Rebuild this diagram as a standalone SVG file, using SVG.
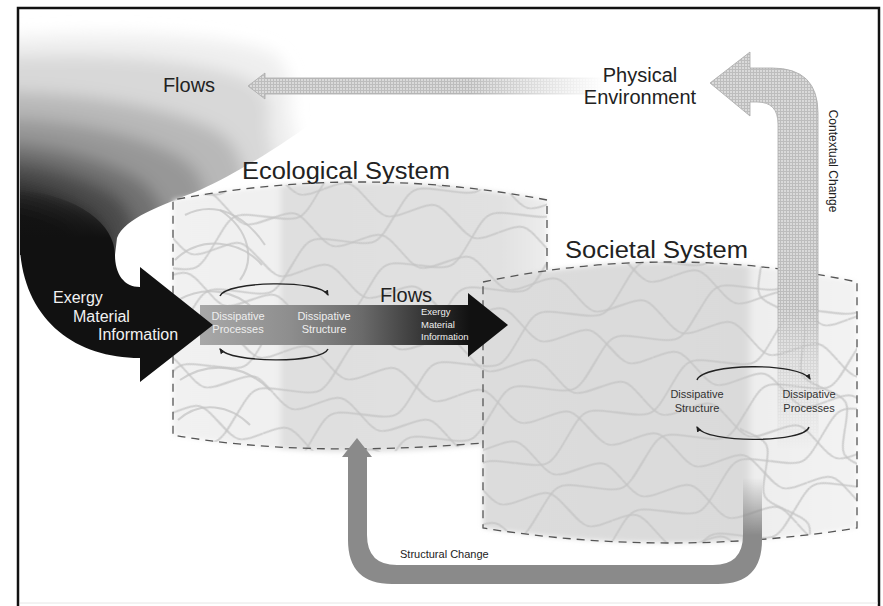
<svg xmlns="http://www.w3.org/2000/svg" width="883" height="606" viewBox="0 0 883 606">
<style>
text{font-family:"Liberation Sans",Arial,sans-serif;}
.dash{fill:none;stroke:#555;stroke-width:1.3;stroke-dasharray:8,6;}
.loop{fill:none;stroke:#222;stroke-width:1.4;}
.wl{fill:none;stroke:#c4c4c4;stroke-width:2.1;stroke-opacity:0.75;}
.lbl{fill:#eee;font-size:11px;text-anchor:middle;}
.dlbl{fill:#333;font-size:11px;text-anchor:middle;}
</style>
<defs>
<linearGradient id="blackG" gradientUnits="userSpaceOnUse" x1="0" y1="188" x2="0" y2="238">
<stop offset="0" stop-color="#111" stop-opacity="0"/>
<stop offset="1" stop-color="#111" stop-opacity="1"/>
</linearGradient>
<linearGradient id="midG" gradientUnits="userSpaceOnUse" x1="200" y1="0" x2="470" y2="0">
<stop offset="0" stop-color="#a8a8a8"/>
<stop offset="0.33" stop-color="#8e8e8e"/>
<stop offset="0.6" stop-color="#6a6a6a"/>
<stop offset="0.86" stop-color="#2e2e2e"/>
<stop offset="1" stop-color="#111"/>
</linearGradient>
<linearGradient id="ecoFill" gradientUnits="userSpaceOnUse" x1="173" y1="0" x2="547" y2="0">
<stop offset="0" stop-color="#f1f1f1"/>
<stop offset="0.28" stop-color="#f0f0f0"/>
<stop offset="0.295" stop-color="#dfdfdf"/>
<stop offset="0.88" stop-color="#e1e1e1"/>
<stop offset="1" stop-color="#ededed"/>
</linearGradient>
<linearGradient id="socFill" gradientUnits="userSpaceOnUse" x1="483" y1="0" x2="857" y2="0">
<stop offset="0" stop-color="#dcdcdc"/>
<stop offset="0.7" stop-color="#dadada"/>
<stop offset="0.725" stop-color="#eeeeee"/>
<stop offset="1" stop-color="#f3f3f3"/>
</linearGradient>
<linearGradient id="fadeR" gradientUnits="userSpaceOnUse" x1="470" y1="0" x2="605" y2="0">
<stop offset="0" stop-color="#fff"/>
<stop offset="1" stop-color="#000"/>
</linearGradient>
<linearGradient id="fadeDown" gradientUnits="userSpaceOnUse" x1="0" y1="310" x2="0" y2="450">
<stop offset="0" stop-color="#fff"/>
<stop offset="0.35" stop-color="#888"/>
<stop offset="1" stop-color="#000"/>
</linearGradient>
<linearGradient id="fadeUp" gradientUnits="userSpaceOnUse" x1="0" y1="478" x2="0" y2="535">
<stop offset="0" stop-color="#000"/>
<stop offset="1" stop-color="#fff"/>
</linearGradient>
<pattern id="grid" width="3" height="3" patternUnits="userSpaceOnUse">
<rect width="3" height="3" fill="#dadada"/>
<rect width="3" height="1" fill="#bdbdbd"/>
<rect width="1" height="3" fill="#bdbdbd"/>
</pattern>
<pattern id="wa" width="180" height="84" patternUnits="userSpaceOnUse" patternTransform="rotate(14)">
<path class="wl" d="M0,21 C22,6 23,6 45,21 S68,36 90,21 S112,6 135,21 S158,36 180,21 M0,63 C22,78 23,78 45,63 S68,48 90,63 S112,78 135,63 S158,48 180,63"/>
</pattern>
<pattern id="wb" width="230" height="110" patternUnits="userSpaceOnUse" patternTransform="rotate(-26) translate(30,10)">
<path class="wl" d="M0,27 C29,8 29,8 57.5,27 S86,46 115,27 S144,8 172.5,27 S201,46 230,27 M0,82 C29,101 29,101 57.5,82 S86,63 115,82 S144,101 172.5,82 S201,63 230,82"/>
</pattern>
<pattern id="wc" width="180" height="90" patternUnits="userSpaceOnUse" patternTransform="rotate(62) translate(10,40)">
<path class="wl" d="M0,45 C22,28 22,28 45,45 S67,62 90,45 S112,28 135,45 S157,62 180,45"/>
</pattern>
<clipPath id="ecoClip"><path d="M173,200 Q360,164 547,200 L547,435 Q360,469 173,435 Z"/></clipPath>
<clipPath id="socClip"><path d="M483,282 Q670,242 857,282 L857,528 Q670,558 483,528 Z"/></clipPath>
<clipPath id="cloudClip"><path d="M20,9 L400,9 L400,110 L318,118 C290,140 240,172 200,190 C160,206 125,218 117,238 L115,255 L20,255 Z"/></clipPath>
<filter id="soft" x="-5%" y="-5%" width="110%" height="110%"><feGaussianBlur stdDeviation="2.5"/></filter>
<filter id="cb" filterUnits="userSpaceOnUse" x="-60" y="-60" width="520" height="520"><feGaussianBlur stdDeviation="8"/></filter>
<mask id="mFlowTop" maskUnits="userSpaceOnUse" x="0" y="0" width="883" height="606">
<rect x="240" y="60" width="380" height="50" fill="url(#fadeR)"/>
</mask>
<mask id="mCtx" maskUnits="userSpaceOnUse" x="0" y="0" width="883" height="606">
<rect x="690" y="40" width="150" height="420" fill="url(#fadeDown)"/>
</mask>
<mask id="mStruct" maskUnits="userSpaceOnUse" x="0" y="0" width="883" height="606">
<rect x="330" y="420" width="402" height="180" fill="#fff"/>
<rect x="732" y="460" width="40" height="140" fill="url(#fadeUp)"/>
</mask>
<marker id="ah" viewBox="0 0 10 10" refX="8" refY="5" markerWidth="6" markerHeight="6" markerUnits="userSpaceOnUse" orient="auto">
<path d="M0,1 L10,5 L0,9 Z" fill="#222"/>
</marker>
</defs>

<rect width="883" height="606" fill="#fff"/>

<g id="cloud" clip-path="url(#cloudClip)">
<g filter="url(#cb)">
<path d="M0,38 C100,30 220,34 268,51 C290,62 292,90 290,110 L300,160 L0,420 Z" fill="#efefef"/>
<path d="M0,58 C90,52 200,58 250,80 C270,92 272,110 268,125 L275,165 L0,420 Z" fill="#d8d8d8"/>
<path d="M0,92 C80,92 170,107 215,130 C235,142 242,157 245,182 L0,420 Z" fill="#b8b8b8"/>
<path d="M0,118 C70,120 140,134 180,157 C195,167 203,177 206,197 L0,420 Z" fill="#979797"/>
<path d="M0,142 C60,145 110,162 140,180 C152,190 160,200 164,214 L0,420 Z" fill="#717171"/>
<path d="M0,160 C50,164 95,180 118,197 C128,207 134,217 136,232 L0,420 Z" fill="#4c4c4c"/>
<path d="M0,180 C40,184 75,198 95,214 C105,224 110,234 112,250 L0,420 Z" fill="#2a2a2a"/>
<path d="M0,202 C35,206 60,216 75,228 L85,262 L0,420 Z" fill="#151515"/>
</g>
</g>

<g id="frame">
<path d="M18,606 V8 H879 V606" fill="none" stroke="#111" stroke-width="2.5"/>
<line x1="20" y1="603" x2="878" y2="603" stroke="#e6e6e6" stroke-width="1"/>
</g>

<g id="physical-environment">
<path d="M248,86 L265,73 L265,78 L610,78 L610,94 L265,94 L265,99 Z" fill="url(#grid)" stroke="#aaa" stroke-width="0.8" mask="url(#mFlowTop)"/>
<text x="189" y="92" font-size="20" fill="#222" text-anchor="middle">Flows</text>
<text x="640" y="82" font-size="20" fill="#222" text-anchor="middle">Physical</text>
<text x="640" y="104" font-size="20" fill="#222" text-anchor="middle">Environment</text>
</g>

<g id="ecological-system">
<path d="M173,200 Q360,164 547,200 L547,435 Q360,469 173,435 Z" fill="url(#ecoFill)" filter="url(#soft)"/>
<g clip-path="url(#ecoClip)">
<rect x="173" y="160" width="374" height="310" fill="url(#wa)"/>
<rect x="173" y="160" width="374" height="310" fill="url(#wb)"/>
<g class="wl">
<path d="M185,215 C215,200 245,215 265,245"/>
<path d="M175,260 C200,235 240,240 262,265"/>
<path d="M178,300 C205,285 235,290 255,310"/>
<path d="M180,380 C210,360 245,365 270,390"/>
<path d="M178,420 C200,400 230,405 250,425"/>
<path d="M220,210 C250,230 255,260 240,280"/>
</g>
</g>
<path class="dash" d="M547,270 L547,200 Q360,164 173,200 L173,435 Q300,458 483,443"/>
<text x="242" y="179" font-size="23" fill="#222" textLength="208" lengthAdjust="spacingAndGlyphs">Ecological System</text>
</g>

<g id="societal-system">
<path d="M483,282 Q670,242 857,282 L857,528 Q670,558 483,528 Z" fill="url(#socFill)" filter="url(#soft)"/>
<g clip-path="url(#socClip)">
<rect x="483" y="240" width="374" height="320" fill="url(#wa)"/>
<rect x="483" y="240" width="374" height="320" fill="url(#wb)"/>
<rect x="740" y="240" width="117" height="320" fill="url(#wc)"/>
</g>
<path class="dash" d="M483,282 Q670,242 857,282 L857,528 Q670,558 483,528 Z"/>
<text x="565" y="258" font-size="23" fill="#222" textLength="183" lengthAdjust="spacingAndGlyphs">Societal System</text>
</g>

<g id="connectors">
<g id="contextual-change">
<path d="M710,83 L750,52 L750,68 L772,68 Q818,68 818,113 L818,460 L778,460 L778,124 Q778,102 757,102 L750,102 L750,116 Z" fill="url(#grid)" stroke="#a8a8a8" stroke-width="0.8" mask="url(#mCtx)"/>
<text transform="translate(829,161) rotate(90)" font-size="12" fill="#222" text-anchor="middle">Contextual Change</text>
</g>
<g id="flows-mid">
<path d="M200,305 L468,305 L468,293 L508,325 L468,357 L468,345 L200,345 Z" fill="url(#midG)"/>
</g>
<g id="input-arrow">
<path d="M20,190 C80,196 115,225 115,255 C115,274 124,287 140,287 L140,267 L213,325 L140,382 L140,358 C75,358 25,320 20,250 Z" fill="url(#blackG)"/>
</g>
<g id="structural-change">
<path d="M348,457 L342,457 L357,438 L372,457 L367,457 L367,535 Q367,565 397,565 L713,565 Q743,565 743,535 L743,470 L762,470 L762,540 Q762,584 718,584 L392,584 Q348,584 348,540 Z" fill="#8a8a8a" mask="url(#mStruct)"/>
<text x="400" y="558" font-size="11" fill="#222">Structural Change</text>
</g>
<g id="loops">
<path class="loop" d="M220,296 C226,281 320,279 328,295" marker-end="url(#ah)"/>
<path class="loop" d="M328,349 C322,364 230,363 220,349" marker-end="url(#ah)"/>
<path class="loop" d="M697,380 C703,363 800,362 810,379" marker-end="url(#ah)"/>
<path class="loop" d="M809,427 C805,443 706,444 697,427" marker-end="url(#ah)"/>
</g>
</g>

<g id="labels">
<text x="53" y="303" font-size="16" fill="#f2f2f2">Exergy</text>
<text x="73" y="322" font-size="16" fill="#f2f2f2">Material</text>
<text x="98" y="340" font-size="16" fill="#f2f2f2">Information</text>
<text x="406" y="302" font-size="20" fill="#222" text-anchor="middle">Flows</text>
<text class="lbl" x="238" y="320">Dissipative</text>
<text class="lbl" x="238" y="333">Processes</text>
<text class="lbl" x="324" y="320">Dissipative</text>
<text class="lbl" x="324" y="333">Structure</text>
<text x="421" y="315" font-size="9.5" fill="#eee">Exergy</text>
<text x="421" y="327.5" font-size="9.5" fill="#eee">Material</text>
<text x="421" y="340" font-size="9.5" fill="#eee">Information</text>
<text class="dlbl" x="697" y="398">Dissipative</text>
<text class="dlbl" x="697" y="412">Structure</text>
<text class="dlbl" x="809" y="398">Dissipative</text>
<text class="dlbl" x="809" y="412">Processes</text>
</g>
</svg>
